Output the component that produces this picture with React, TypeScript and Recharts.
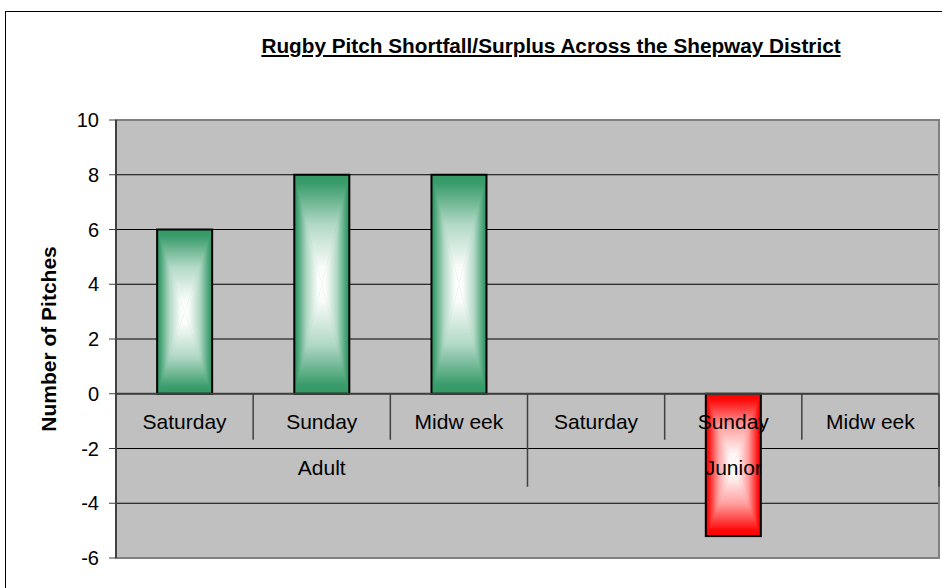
import React from 'react';
import { BarChart, Bar, XAxis, YAxis, CartesianGrid, ReferenceLine, ReferenceArea } from 'recharts';

const groups = ['Adult', 'Junior'];
const days = ['Saturday', 'Sunday', 'Midw eek'];
const adultValues = [6, 8, 8];
const juniorValues = [0, -5.2, 0];
const yTicks = [-6, -4, -2, 0, 2, 4, 6, 8, 10];

const groupValues = [adultValues, juniorValues];
const data = groups.flatMap((g, gi) =>
  days.map((d, i) => ({ key: `${g}-${d}`, group: g, day: d, value: groupValues[gi][i] }))
);

const FONT = 'Arial, "Liberation Sans", sans-serif';
const fills = { pos: '#339966', neg: '#FF0000' };

// blend a hex colour towards white
const tint = (hex: string, t: number) => {
  const n = parseInt(hex.slice(1), 16);
  const ch = [(n >> 16) & 255, (n >> 8) & 255, n & 255].map((v) => Math.round(v + (255 - v) * t));
  return `rgb(${ch.join(',')})`;
};

// excel style "from centre" gradient: four triangles, each shading edge -> centre
const sides = [
  { id: 'top', x1: 0, y1: 0, x2: 0, y2: 1 },
  { id: 'bottom', x1: 0, y1: 1, x2: 0, y2: 0 },
  { id: 'left', x1: 0, y1: 0, x2: 1, y2: 0 },
  { id: 'right', x1: 1, y1: 0, x2: 0, y2: 0 },
];

const GradientBar = (props: any) => {
  let { x, y, width, height } = props;
  if (height < 0) {
    y += height;
    height = -height;
  }
  if (!height) return null;
  const kind = props.payload && props.payload.value < 0 ? 'neg' : 'pos';
  const cx = x + width / 2;
  const cy = y + height / 2;
  const r = x + width;
  const b = y + height;
  const tris: Record<string, string> = {
    top: `${x},${y} ${r},${y} ${cx},${cy}`,
    bottom: `${x},${b} ${r},${b} ${cx},${cy}`,
    left: `${x},${y} ${x},${b} ${cx},${cy}`,
    right: `${r},${y} ${r},${b} ${cx},${cy}`,
  };
  return (
    <g>
      <rect x={x} y={y} width={width} height={height} fill={fills[kind]} />
      {sides.map((s) => (
        <polygon key={s.id} points={tris[s.id]} fill={`url(#${kind}-${s.id})`} stroke={`url(#${kind}-${s.id})`} strokeWidth={0.5} />
      ))}
      <rect x={x} y={y} width={width} height={height} fill="none" stroke="#000" strokeWidth={2} />
    </g>
  );
};

// category labels drawn along the zero line, two levels
const CategoryLabels = (props: any) => {
  const { x, y, width } = props.viewBox;
  const n = data.length;
  const step = width / n;
  const lines = [];
  for (let i = 0; i <= n; i++) {
    const long = i % days.length === 0;
    lines.push(
      <line key={'s' + i} x1={x + step * i} x2={x + step * i} y1={y} y2={y + (long ? 93 : 46)} stroke="#404040" strokeWidth={1.5} />
    );
  }
  return (
    <g>
      {lines}
      {data.map((d, i) => (
        <text key={d.key} x={x + step * (i + 0.5)} y={y + 30} textAnchor="middle" dominantBaseline="middle"
          fontFamily={FONT} fontSize={21} fill="#000">
          {d.day}
        </text>
      ))}
      {groups.map((g) => (
        <text key={g} x={x + step * (groups.indexOf(g) * days.length + days.length / 2)} y={y + 76} textAnchor="middle"
          dominantBaseline="middle" fontFamily={FONT} fontSize={21} fill="#000">
          {g}
        </text>
      ))}
    </g>
  );
};

export default function App() {
  return (
    <div style={{ position: 'absolute', left: 0, top: 0, width: 942, height: 588, overflow: 'hidden', background: '#fff' }}>
      <div style={{ position: 'absolute', left: 5, top: 11, width: 1000, height: 1000, border: '1px solid #000' }} />
      <div
        style={{
          position: 'absolute', left: 551, top: 34, transform: 'translateX(-50%)', whiteSpace: 'nowrap',
          fontFamily: FONT, fontWeight: 'bold', fontSize: 20.75, textDecoration: 'underline', color: '#000',
        }}
      >
        Rugby Pitch Shortfall/Surplus Across the Shepway District
      </div>
      <div style={{ position: 'absolute', left: 0, top: 0 }}>
        <BarChart width={942} height={588} data={data} margin={{ top: 120, right: 3, bottom: 30, left: 0 }}
          barCategoryGap="30%">
          <defs>
            {Object.entries(fills).map(([k, c]) =>
              sides.map((s) => (
                <linearGradient key={k + s.id} id={`${k}-${s.id}`} x1={s.x1} y1={s.y1} x2={s.x2} y2={s.y2}>
                  <stop offset="0" stopColor={c} />
                  <stop offset="0.08" stopColor={tint(c, 0.03)} />
                  <stop offset="0.45" stopColor={tint(c, 0.62)} />
                  <stop offset="0.85" stopColor={tint(c, 0.97)} />
                  <stop offset="1" stopColor="#fff" />
                </linearGradient>
              ))
            )}
          </defs>
          <CartesianGrid vertical={false} stroke="#000" fill="#C0C0C0" fillOpacity={1} />
          <XAxis dataKey="key" hide />
          <YAxis
            domain={[-6, 10]}
            ticks={yTicks}
            width={116}
            tickSize={7}
            tickMargin={10}
            axisLine={{ stroke: '#404040', strokeWidth: 2 }}
            tickLine={{ stroke: '#404040' }}
            tick={{ fill: '#000', fontSize: 20, fontFamily: FONT }}
            label={{
              value: 'Number of Pitches', angle: -90, position: 'center', dx: -9,
              style: { fontFamily: FONT, fontWeight: 'bold', fontSize: 21, fill: '#000' },
            }}
          />
          <ReferenceArea y1={-6} y2={10} fill="none" stroke="#808080" strokeWidth={2} />
          <Bar dataKey="value" shape={<GradientBar />} isAnimationActive={false} />
          <ReferenceLine y={0} stroke="#404040" strokeWidth={2} label={<CategoryLabels />} />
        </BarChart>
      </div>
    </div>
  );
}
